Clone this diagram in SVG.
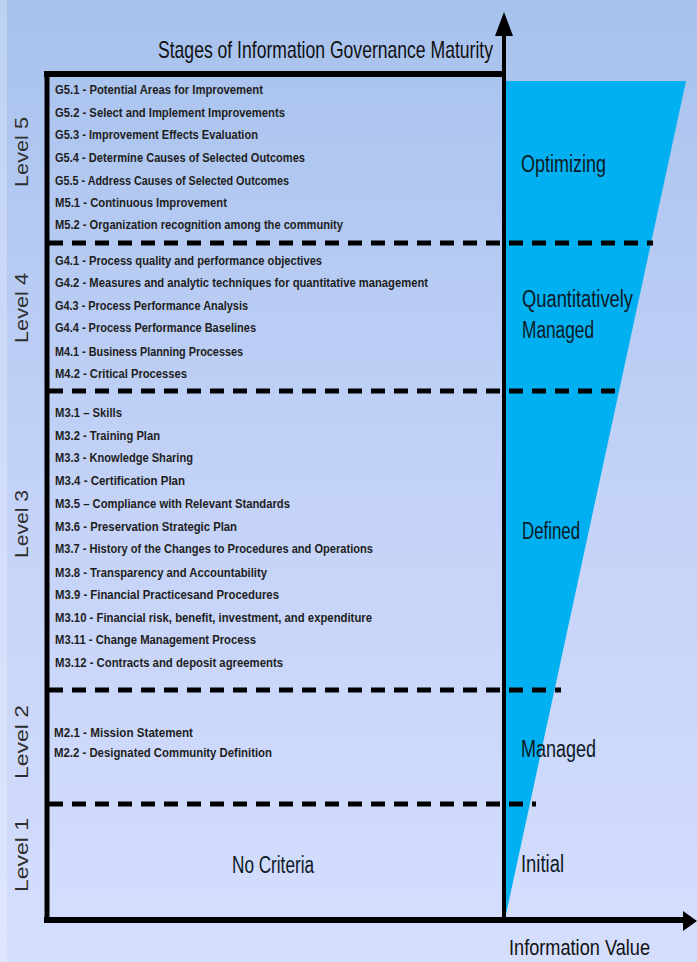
<svg xmlns="http://www.w3.org/2000/svg" width="697" height="962" viewBox="0 0 697 962">
<defs>
<linearGradient id="bg" x1="0" y1="0" x2="0" y2="1">
<stop offset="0" stop-color="#a7c2ed"/>
<stop offset="0.5" stop-color="#c3d2f7"/>
<stop offset="1" stop-color="#d5defd"/>
</linearGradient>
<style>
.item{font-family:"Liberation Sans Narrow","Liberation Sans",Arial,sans-serif;font-size:12px;font-weight:bold;fill:#1e1e1e}
.lvl{font-family:"Liberation Sans",Arial,sans-serif;font-size:18px;fill:#2e2e2e}
.stage{font-family:"Liberation Sans Narrow","Liberation Sans",Arial,sans-serif;font-size:23px;fill:#0d1a26}
.axis{stroke:#000;fill:none}
.dash{stroke:#000;stroke-width:5;stroke-dasharray:14 9;fill:none}
</style>
</defs>
<rect x="0" y="0" width="697" height="962" fill="url(#bg)"/>
<rect x="0" y="0" width="7" height="962" fill="#ffffff" opacity="0.25"/>

<g id="value-wedge">
<polygon points="505,81 686,81 505,919" fill="#00b0f0"/>
</g>

<g id="connectors">
<line class="dash" x1="49" y1="243" x2="653" y2="243"/>
<line class="dash" x1="49" y1="391" x2="623" y2="391"/>
<line class="dash" x1="49" y1="690" x2="561" y2="690"/>
<line class="dash" x1="49" y1="804" x2="536" y2="804"/>
<line class="axis" x1="47" y1="72" x2="47" y2="921" stroke-width="5"/>
<line class="axis" x1="44" y1="74" x2="505" y2="74" stroke-width="6"/>
<line class="axis" x1="504" y1="30" x2="504" y2="921" stroke-width="4"/>
<polygon points="504,12 495,36 513,36" fill="#000"/>
<line class="axis" x1="44" y1="920" x2="686" y2="920" stroke-width="6"/>
<polygon points="697,921 683,911 683,931" fill="#000"/>
</g>

<g id="title">
<text x="158" y="58" font-family="'Liberation Sans Narrow','Liberation Sans',Arial,sans-serif" font-size="24" fill="#111" textLength="335" lengthAdjust="spacingAndGlyphs">Stages of Information Governance Maturity</text>
</g>

<g id="level-labels">
<text class="lvl" transform="translate(28,152) rotate(-90)" text-anchor="middle" textLength="70" lengthAdjust="spacingAndGlyphs">Level 5</text>
<text class="lvl" transform="translate(28,308) rotate(-90)" text-anchor="middle" textLength="70" lengthAdjust="spacingAndGlyphs">Level 4</text>
<text class="lvl" transform="translate(28,524) rotate(-90)" text-anchor="middle" textLength="68" lengthAdjust="spacingAndGlyphs">Level 3</text>
<text class="lvl" transform="translate(28,742) rotate(-90)" text-anchor="middle" textLength="74" lengthAdjust="spacingAndGlyphs">Level 2</text>
<text class="lvl" transform="translate(28,855) rotate(-90)" text-anchor="middle" textLength="74" lengthAdjust="spacingAndGlyphs">Level 1</text>
</g>

<g id="level5">
<text class="item" x="55" y="94" textLength="208" lengthAdjust="spacingAndGlyphs">G5.1 - Potential Areas for Improvement</text>
<text class="item" x="55" y="117" textLength="230" lengthAdjust="spacingAndGlyphs">G5.2 - Select and Implement Improvements</text>
<text class="item" x="55" y="139" textLength="203" lengthAdjust="spacingAndGlyphs">G5.3 - Improvement Effects Evaluation</text>
<text class="item" x="55" y="162" textLength="250" lengthAdjust="spacingAndGlyphs">G5.4 - Determine Causes of Selected Outcomes</text>
<text class="item" x="55" y="185" textLength="234" lengthAdjust="spacingAndGlyphs">G5.5 - Address Causes of Selected Outcomes</text>
<text class="item" x="55" y="207" textLength="172" lengthAdjust="spacingAndGlyphs">M5.1 - Continuous Improvement</text>
<text class="item" x="55" y="229" textLength="288" lengthAdjust="spacingAndGlyphs">M5.2 - Organization recognition among the community</text>
<text class="stage" x="521" y="172" textLength="85" lengthAdjust="spacingAndGlyphs">Optimizing</text>
</g>

<g id="level4">
<text class="item" x="55" y="265" textLength="267" lengthAdjust="spacingAndGlyphs">G4.1 - Process quality and performance objectives</text>
<text class="item" x="55" y="287" textLength="373" lengthAdjust="spacingAndGlyphs">G4.2 - Measures and analytic techniques for quantitative management</text>
<text class="item" x="55" y="310" textLength="193" lengthAdjust="spacingAndGlyphs">G4.3 - Process Performance Analysis</text>
<text class="item" x="55" y="332" textLength="201" lengthAdjust="spacingAndGlyphs">G4.4 - Process Performance Baselines</text>
<text class="item" x="55" y="356" textLength="188" lengthAdjust="spacingAndGlyphs">M4.1 - Business Planning Processes</text>
<text class="item" x="55" y="378" textLength="132" lengthAdjust="spacingAndGlyphs">M4.2 - Critical Processes</text>
<text class="stage" x="522" y="307" textLength="111" lengthAdjust="spacingAndGlyphs">Quantitatively</text>
<text class="stage" x="522" y="338" textLength="72" lengthAdjust="spacingAndGlyphs">Managed</text>
</g>

<g id="level3">
<text class="item" x="55" y="417" textLength="67" lengthAdjust="spacingAndGlyphs">M3.1 – Skills</text>
<text class="item" x="55" y="440" textLength="105" lengthAdjust="spacingAndGlyphs">M3.2 - Training Plan</text>
<text class="item" x="55" y="462" textLength="138" lengthAdjust="spacingAndGlyphs">M3.3 - Knowledge Sharing</text>
<text class="item" x="55" y="485" textLength="130" lengthAdjust="spacingAndGlyphs">M3.4 - Certification Plan</text>
<text class="item" x="55" y="508" textLength="235" lengthAdjust="spacingAndGlyphs">M3.5 – Compliance with Relevant Standards</text>
<text class="item" x="55" y="531" textLength="182" lengthAdjust="spacingAndGlyphs">M3.6 - Preservation Strategic Plan</text>
<text class="item" x="55" y="553" textLength="318" lengthAdjust="spacingAndGlyphs">M3.7 - History of the Changes to Procedures and Operations</text>
<text class="item" x="55" y="577" textLength="212" lengthAdjust="spacingAndGlyphs">M3.8 - Transparency and Accountability</text>
<text class="item" x="55" y="599" textLength="224" lengthAdjust="spacingAndGlyphs">M3.9 - Financial Practicesand Procedures</text>
<text class="item" x="55" y="622" textLength="317" lengthAdjust="spacingAndGlyphs">M3.10 - Financial risk, benefit, investment, and expenditure</text>
<text class="item" x="55" y="644" textLength="201" lengthAdjust="spacingAndGlyphs">M3.11 - Change Management Process</text>
<text class="item" x="55" y="667" textLength="228" lengthAdjust="spacingAndGlyphs">M3.12 - Contracts and deposit agreements</text>
<text class="stage" x="522" y="539" textLength="58" lengthAdjust="spacingAndGlyphs">Defined</text>
</g>

<g id="level2">
<text class="item" x="54" y="737" textLength="139" lengthAdjust="spacingAndGlyphs">M2.1 - Mission Statement</text>
<text class="item" x="54" y="757" textLength="218" lengthAdjust="spacingAndGlyphs">M2.2 - Designated Community Definition</text>
<text class="stage" x="521" y="757" textLength="75" lengthAdjust="spacingAndGlyphs">Managed</text>
</g>

<g id="level1">
<text class="stage" x="232" y="873" font-size="25" fill="#111" textLength="82" lengthAdjust="spacingAndGlyphs">No Criteria</text>
<text class="stage" x="521" y="872" textLength="43" lengthAdjust="spacingAndGlyphs">Initial</text>
</g>

<g id="x-axis-label">
<text x="509" y="955" font-family="'Liberation Sans Narrow','Liberation Sans',Arial,sans-serif" font-size="22" fill="#111" textLength="141" lengthAdjust="spacingAndGlyphs">Information Value</text>
</g>
</svg>
